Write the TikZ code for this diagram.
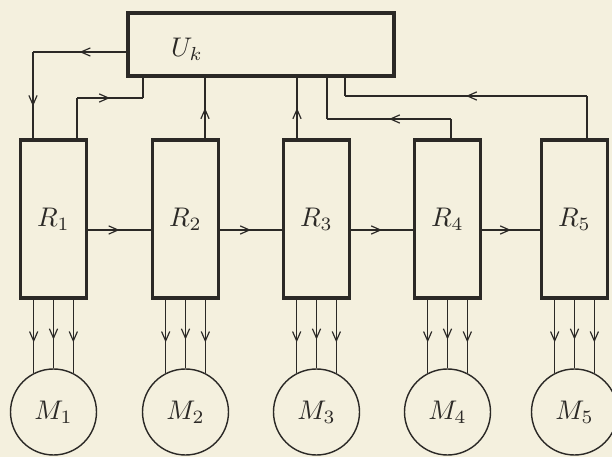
\documentclass[tikz,border=0pt]{standalone}
\usetikzlibrary{arrows.meta,decorations.markings}

\definecolor{Cpaper}{HTML}{F4F0DE}
\definecolor{Cink}{HTML}{2B2926}

\newcommand{\blocklabel}[1]{\scalebox{2.3}{$#1$}}

\begin{document}
\begin{tikzpicture}[x=0.03cm,y=-0.03cm,
		blk/.style={draw=Cink,line width=3.2pt,inner sep=0pt},
		reg/.style={blk,minimum width=1.98cm,minimum height=4.74cm},
		mot/.style={circle,draw=Cink,line width=1.2pt,minimum size=2.58cm,inner sep=0pt},
		wire/.style={draw=Cink,line width=0.9pt},
		midarr/.style={postaction={decorate},decoration={markings,
				mark=at position #1 with {\arrow{Straight Barb[length=8pt,width=7pt,line width=1pt]}}}},
		midarr/.default=0.5,
		text=Cink]
		\fill[Cpaper] (0,0) rectangle (612,457);
		\useasboundingbox (0,0) rectangle (612,457);

		% control unit
		\node[blk,minimum width=7.98cm,minimum height=1.89cm] (uk) at (261,44.5) {};
		\node (uklbl) at (187,49) {\blocklabel{U_k}};

		% regulators and motors
		\foreach \i/\x in {1/53.5,2/185.5,3/316.5,4/447.5,5/574.5}{
			\node[reg] (r\i) at (\x,219) {\blocklabel{R_{\i}}};
			\node[mot] (m\i) at (\x,412) {\blocklabel{M_{\i}}};
			\foreach \a in {63,90,117}
				\draw[wire,midarr=0.58] (r\i.south -| m\i.\a) -- (m\i.\a);
		}

		% chain R1 -> R5
		\coordinate (lvl) at (0,230);
		\foreach \i [evaluate=\i as \j using int(\i+1)] in {1,...,4}
			\draw[wire,midarr] (r\i.east |- lvl) -- (r\j.west |- lvl);

		% Uk -> R1
		\coordinate (ukl) at (33,52);
		\draw[wire,midarr] (uk.west |- ukl) -- (ukl);
		\draw[wire,midarr=0.63] (ukl) -- (r1.north -| ukl);

		% R1 -> Uk
		\coordinate (b1) at (77,98);
		\coordinate (b1u) at (143,98);
		\draw[wire] (r1.north -| b1) -- (b1);
		\draw[wire,midarr] (b1) -- (b1u);
		\draw[wire] (b1u) -- (uk.south -| b1u);

		% R2, R3 -> Uk
		\coordinate (v2) at (205,0);
		\coordinate (v3) at (297,0);
		\draw[wire,midarr] (r2.north -| v2) -- (uk.south -| v2);
		\draw[wire,midarr] (r3.north -| v3) -- (uk.south -| v3);

		% R4 -> Uk
		\coordinate (b4) at (451,119);
		\coordinate (b4u) at (327,119);
		\draw[wire] (r4.north -| b4) -- (b4);
		\draw[wire,midarr] (b4) -- (b4u);
		\draw[wire] (b4u) -- (uk.south -| b4u);

		% R5 -> Uk
		\coordinate (b5) at (587,96);
		\coordinate (b5u) at (345,96);
		\draw[wire] (r5.north -| b5) -- (b5);
		\draw[wire,midarr] (b5) -- (b5u);
		\draw[wire] (b5u) -- (uk.south -| b5u);
\end{tikzpicture}
\end{document}
